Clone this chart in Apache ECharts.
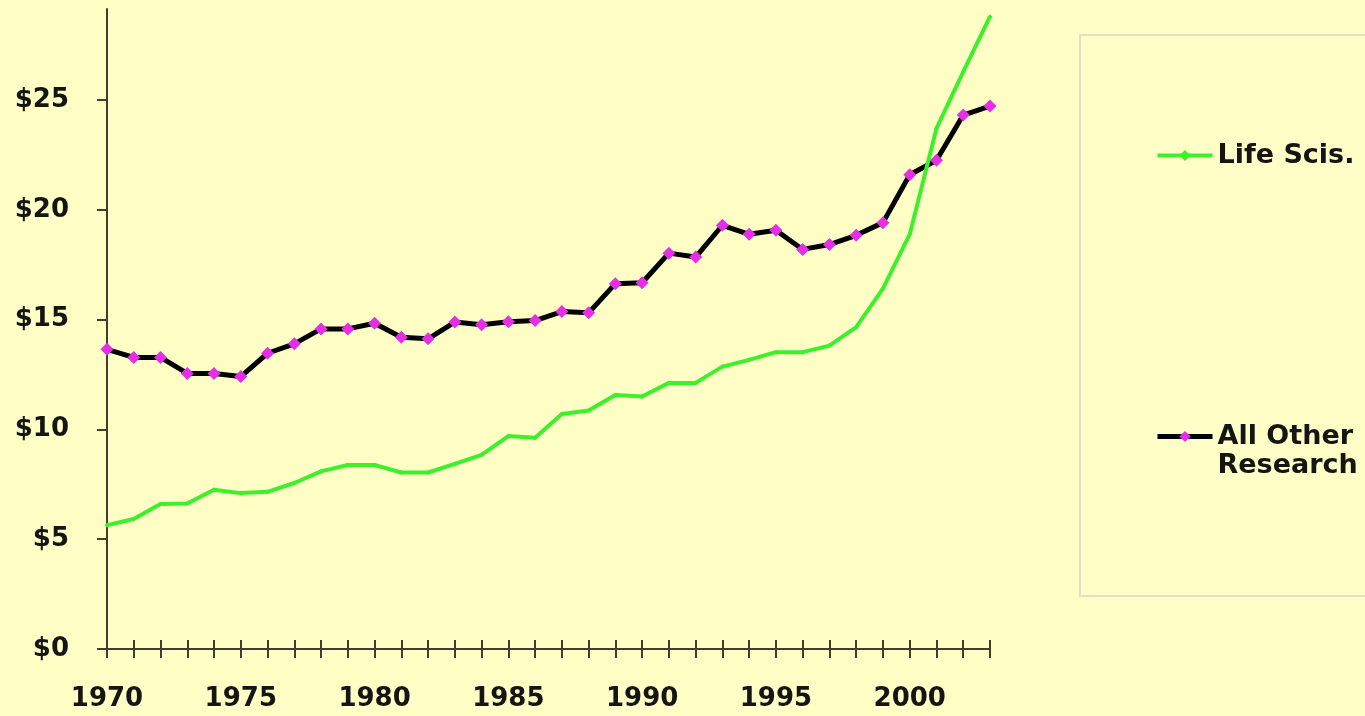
<!DOCTYPE html>
<html>
<head>
<meta charset="utf-8">
<script src="https://cdn.jsdelivr.net/npm/echarts@6/dist/echarts.min.js"></script>
<style>
html,body{margin:0;padding:0;background:#FFFEC4;}
#c{width:1365px;height:716px;}
</style>
</head>
<body>
<div id="c"></div>
<script>
const years = ['1970','1971','1972','1973','1974','1975','1976','1977','1978','1979',
  '1980','1981','1982','1983','1984','1985','1986','1987','1988','1989',
  '1990','1991','1992','1993','1994','1995','1996','1997','1998','1999',
  '2000','2001','2002','2003'];
const lifeSci = [5.64,5.92,6.6,6.63,7.25,7.10,7.16,7.56,8.09,8.38,
  8.38,8.04,8.04,8.43,8.84,9.7,9.62,10.7,10.86,11.57,
  11.5,12.12,12.12,12.86,13.17,13.52,13.52,13.82,14.66,16.41,
  18.88,23.71,26.29,28.8];
const allOther = [13.65,13.28,13.28,12.55,12.55,12.41,13.47,13.9,14.58,14.58,
  14.84,14.2,14.13,14.89,14.77,14.91,14.96,15.37,15.31,16.64,
  16.68,18.03,17.85,19.3,18.89,19.07,18.2,18.42,18.84,19.42,
  21.6,22.26,24.32,24.73];
const seriesNames = ['Life Scis.', 'All Other\nResearch'];
const yTicks = [0, 5, 10, 15, 20, 25];

const FONT = 'DejaVu Sans';
const axisColor = '#3f3f2a';
const chart = echarts.init(document.getElementById('c'));
chart.setOption({
  backgroundColor: '#FFFEC4',
  animation: false,
  grid: {left: 107, right: 375, top: 9, bottom: 67},
  legend: {
    orient: 'vertical',
    left: 1080, top: 35,
    padding: [106, 120, 116, 75],
    itemGap: 223,
    itemWidth: 55, itemHeight: 14,
    borderColor: '#e2dfcc', borderWidth: 2,
    backgroundColor: '#FFFEC6',
    lineStyle: {width: 'inherit'},
    textStyle: {fontFamily: FONT, fontWeight: 'bold', fontSize: 27, color: '#151515', lineHeight: 29},
    formatter: name => name.indexOf('\n') >= 0 ? ' \n' + name : name,
    data: [seriesNames[0], seriesNames[1]]
  },
  xAxis: [{
    // ticks crossing the axis line: axis shifted up 9px, ticks 18px long pointing down
    type: 'category', data: years, boundaryGap: false, position: 'bottom', offset: -9,
    axisLine: {show: false},
    axisTick: {interval: 0, length: 18, lineStyle: {color: axisColor, width: 2}},
    axisLabel: {interval: 4, margin: 46, fontFamily: FONT, fontWeight: 'bold', fontSize: 26, color: '#151515'},
    splitLine: {show: false}
  }, {
    type: 'category', data: years, boundaryGap: false, position: 'bottom', offset: 0,
    axisLine: {show: true, lineStyle: {color: axisColor, width: 2}},
    axisTick: {show: false},
    axisLabel: {show: false},
    splitLine: {show: false}
  }],
  yAxis: {
    type: 'value', min: 0, max: 29.15, interval: 5,
    axisLine: {show: true, lineStyle: {color: axisColor, width: 2}},
    axisTick: {show: true, length: 10, lineStyle: {color: axisColor, width: 2}},
    axisLabel: {showMaxLabel: false, margin: 38, fontFamily: FONT, fontWeight: 'bold', fontSize: 26, color: '#151515',
      formatter: v => yTicks.indexOf(v) >= 0 ? '$' + v : ''},
    splitLine: {show: false}
  },
  series: [{
    name: seriesNames[0], type: 'line', data: lifeSci, xAxisIndex: 0,
    symbol: 'diamond', symbolSize: 5, showSymbol: true,
    lineStyle: {color: '#3cf02c', width: 4},
    itemStyle: {color: '#3cf02c'},
    z: 3
  }, {
    name: seriesNames[1], type: 'line', data: allOther, xAxisIndex: 0,
    symbol: 'diamond', symbolSize: 13, showSymbol: true,
    lineStyle: {color: '#000000', width: 5},
    itemStyle: {color: '#e52ee5'},
    z: 2
  }]
});
</script>
</body>
</html>
